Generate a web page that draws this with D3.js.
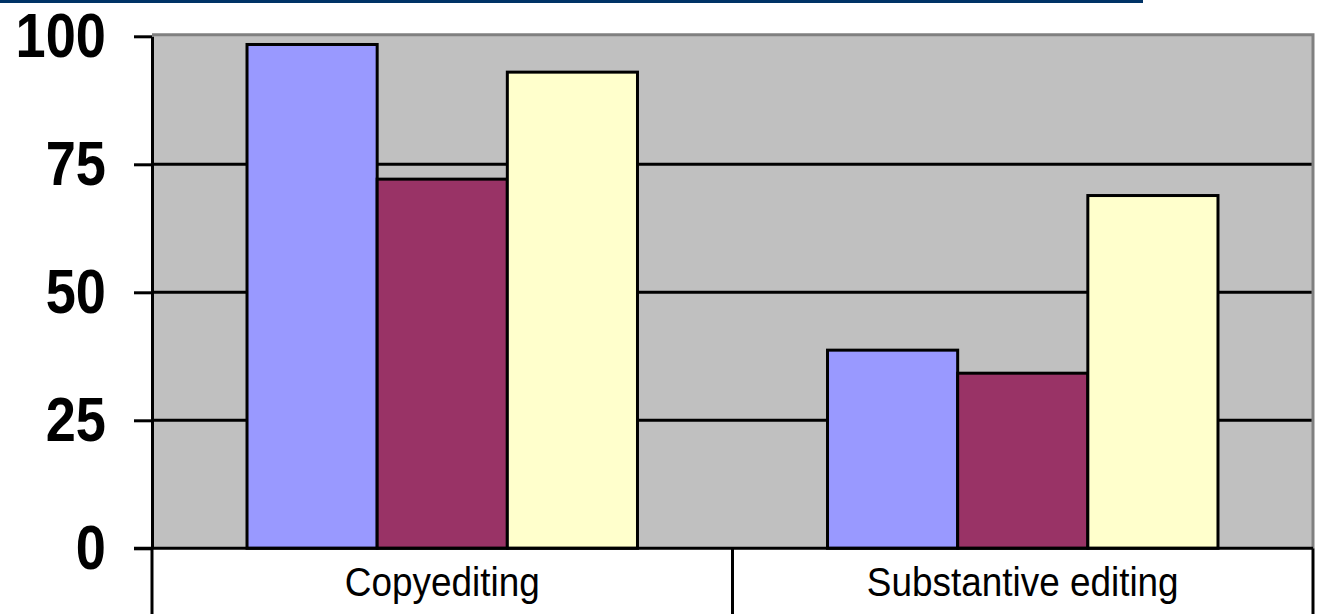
<!DOCTYPE html>
<html>
<head>
<meta charset="utf-8">
<script src="https://cdn.jsdelivr.net/npm/d3@7"></script>
<style>
  html, body { margin: 0; padding: 0; background: #ffffff; }
  svg { display: block; }
</style>
</head>
<body>
<svg id="chart" width="1317" height="614"></svg>
<script>
// Share of respondents per editing type (percent)
const categories = ["Copyediting", "Substantive editing"];
const seriesNames = ["Group 1", "Group 2", "Group 3"];
const group1Values = [98.4, 38.7];
const group2Values = [72.1, 34.2];
const group3Values = [93.0, 68.9];
const yTickValues = [0, 25, 50, 75, 100];

const seriesValues = [group1Values, group2Values, group3Values];
const seriesColors = ["#9999ff", "#993366", "#ffffcc"];

const svg = d3.select("#chart");
const W = 1317, H = 614;
const plot = { left: 152, right: 1313, top: 36.3, bottom: 548.3 };

// decorative header rule
svg.append("rect")
  .attr("x", 0).attr("y", 0).attr("width", 1143).attr("height", 3)
  .attr("fill", "#003366");

const x = d3.scaleBand().domain(categories).range([plot.left, plot.right]).padding(0);
const xInner = d3.scaleBand().domain(seriesNames).range([0, x.bandwidth()])
  .paddingInner(0).paddingOuter(0.73);
const y = d3.scaleLinear().domain([0, 100]).range([plot.bottom, plot.top]);

// plot background
svg.append("rect")
  .attr("x", plot.left).attr("y", plot.top - 1.5)
  .attr("width", plot.right - plot.left).attr("height", plot.bottom - plot.top + 1.5)
  .attr("fill", "#c0c0c0");

// horizontal gridlines
svg.append("g").selectAll("line")
  .data(yTickValues.filter(v => v > 0 && v < 100))
  .join("line")
  .attr("x1", plot.left).attr("x2", plot.right)
  .attr("y1", d => y(d)).attr("y2", d => y(d))
  .attr("stroke", "#000").attr("stroke-width", 3);

// plot border (top and right)
svg.append("path")
  .attr("d", `M${plot.left},${plot.top - 1.5}H${plot.right}V${plot.bottom}`)
  .attr("fill", "none").attr("stroke", "#808080").attr("stroke-width", 3);

// bars
const rows = [];
categories.forEach((c, ci) => {
  seriesNames.forEach((s, si) => {
    rows.push({ cat: c, series: s, value: seriesValues[si][ci], color: seriesColors[si] });
  });
});

svg.append("g").selectAll("rect")
  .data(rows)
  .join("rect")
  .attr("x", d => x(d.cat) + xInner(d.series))
  .attr("y", d => y(d.value))
  .attr("width", xInner.bandwidth())
  .attr("height", d => y(0) - y(d.value))
  .attr("fill", d => d.color)
  .attr("stroke", "#000")
  .attr("stroke-width", 3);

// value axis
const yAxis = d3.axisLeft(y).tickValues(yTickValues).tickSize(18).tickSizeOuter(0)
  .tickFormat(d3.format("d"));
const gy = svg.append("g").attr("transform", `translate(${plot.left},0)`).call(yAxis);
gy.select(".domain").attr("stroke", "#000").attr("stroke-width", 3);
gy.selectAll(".tick line").attr("stroke", "#000").attr("stroke-width", 3);
gy.selectAll(".tick text")
  .attr("x", null)
  .attr("dy", "0.32em")
  .attr("transform", "translate(-46,0) scale(0.86,1)")
  .attr("text-anchor", "end")
  .attr("fill", "#000")
  .style("font-family", "'Liberation Sans', Arial, sans-serif")
  .style("font-weight", "bold")
  .style("font-size", "63px");

// category axis: baseline and dividers
const gx = svg.append("g");
gx.append("line")
  .attr("x1", plot.left - 18).attr("x2", plot.right)
  .attr("y1", y(0)).attr("y2", y(0))
  .attr("stroke", "#000").attr("stroke-width", 3);
const dividers = categories.map(c => x(c)).concat([x.range()[1]]);
gx.selectAll("line.div")
  .data(dividers)
  .join("line")
  .attr("class", "div")
  .attr("x1", d => d).attr("x2", d => d)
  .attr("y1", y(0)).attr("y2", H)
  .attr("stroke", "#000").attr("stroke-width", 3);

gx.selectAll("text")
  .data(categories)
  .join("text")
  .attr("transform", d => `translate(${x(d) + x.bandwidth() / 2},596) scale(0.9,1)`)
  .attr("text-anchor", "middle")
  .attr("fill", "#000")
  .style("font-family", "'Liberation Sans', Arial, sans-serif")
  .style("font-size", "41px")
  .text(d => d);
</script>
</body>
</html>
